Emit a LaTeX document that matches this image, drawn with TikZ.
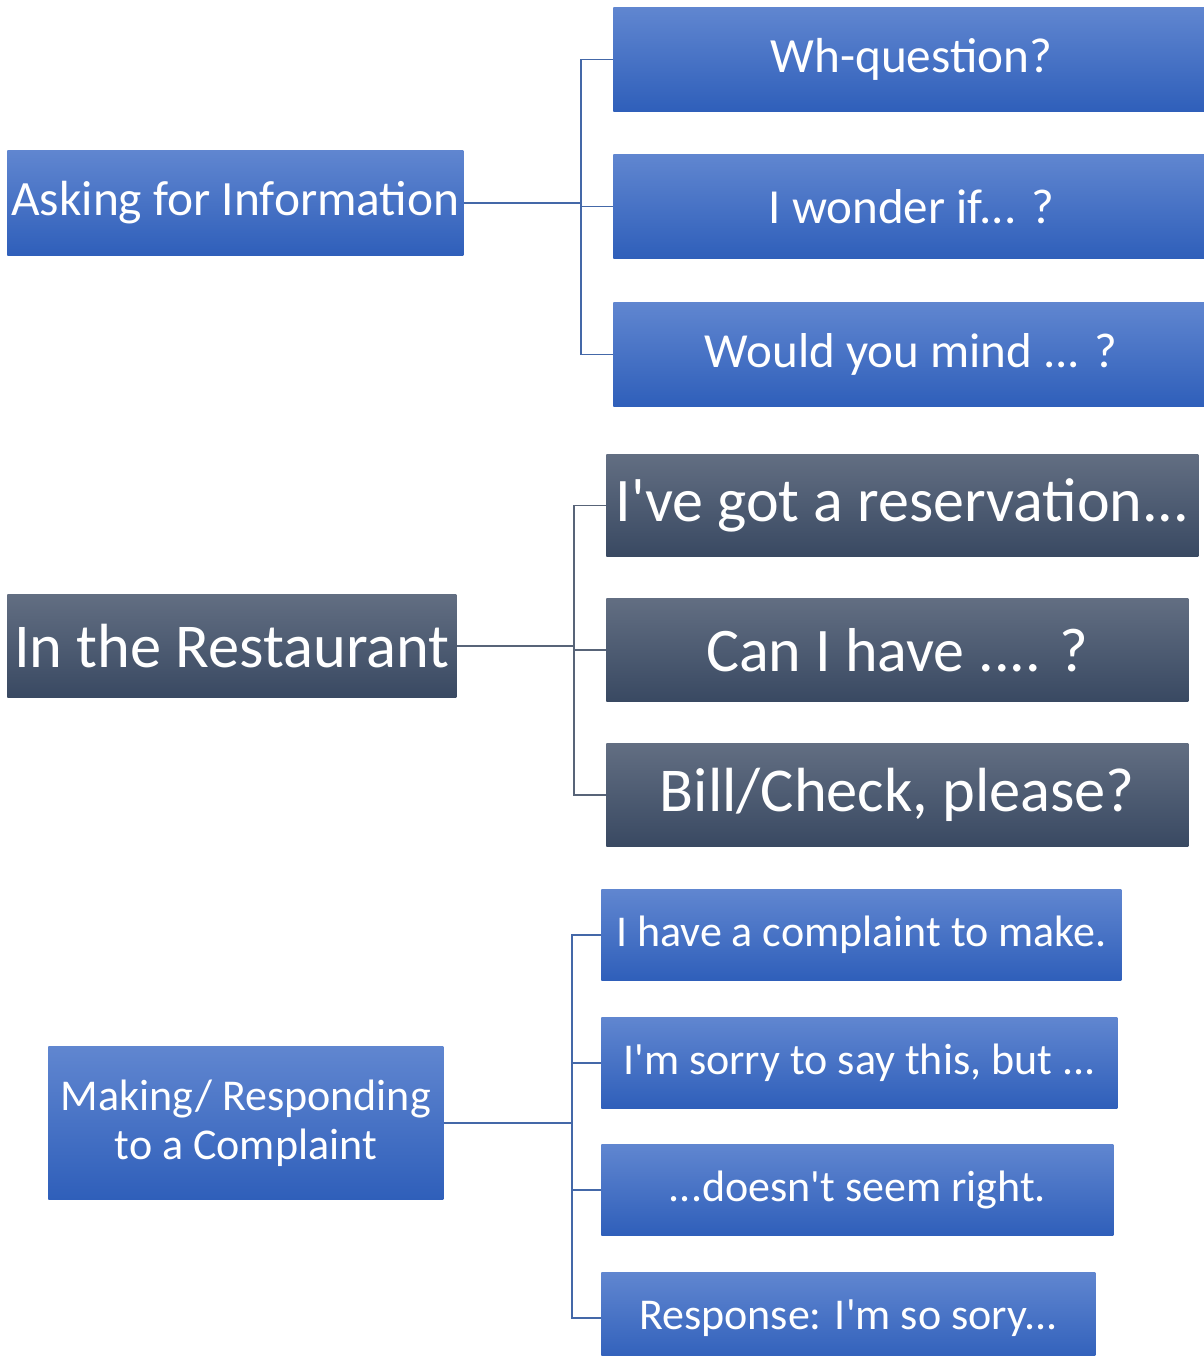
\documentclass[tikz,border=0pt]{standalone}
\usepackage{fontspec}
\setmainfont{Carlito}[Ligatures=TeXOff]
\usepackage{xcolor}
\usetikzlibrary{positioning}
\definecolor{PhraseBlueTop}{RGB}{96,134,208}
\definecolor{PhraseBlueBot}{RGB}{47,95,186}
\definecolor{PhraseDarkTop}{RGB}{98,110,130}
\definecolor{PhraseDarkBot}{RGB}{57,73,98}
\definecolor{LinkBlue}{RGB}{68,104,168}
\definecolor{LinkDark}{RGB}{88,100,120}
\tikzset{
  bluebox/.style={rectangle, anchor=north west, inner sep=0pt,
    top color=PhraseBlueTop, bottom color=PhraseBlueBot, text=white, align=center},
  darkbox/.style={rectangle, anchor=north west, inner sep=0pt,
    top color=PhraseDarkTop, bottom color=PhraseDarkBot, text=white, align=center},
  bluelink/.style={draw=LinkBlue, line width=0.7pt},
  darklink/.style={draw=LinkDark, line width=0.7pt}
}

\begin{document}
\begin{tikzpicture}[x=0.5pt, y=-0.5pt]
  \useasboundingbox (0,0) rectangle (1204,1356);
  % asking for information
  \node[bluebox, minimum width=228pt, minimum height=52.5pt,
    font=\fontsize{24.7}{27}\selectfont] (ask) at (7,150) {Asking for Information};
  \node[bluebox, minimum width=298pt, minimum height=52pt,
    font=\fontsize{24.6}{27}\selectfont] (wh) at (613,7) {Wh-question?};
  \node[bluebox, minimum width=298pt, minimum height=52pt,
    font=\fontsize{24.5}{27}\selectfont] (wonder) at (613,154) {I wonder if... ?};
  \node[bluebox, minimum width=298pt, minimum height=52pt,
    font=\fontsize{24.5}{27}\selectfont] (mind) at (613,302) {Would you mind ... ?};
  \path (ask.east) ++(117,0) coordinate (askj);
  \draw[bluelink] (ask.east) -- (askj);
  \foreach \c in {wh,wonder,mind}
    \draw[bluelink] (askj) |- (\c.west);
  % in the restaurant
  \node[darkbox, minimum width=224.5pt, minimum height=51.5pt,
    font=\fontsize{31.2}{34}\selectfont] (rest) at (7,594) {In the Restaurant};
  \node[darkbox, minimum width=296pt, minimum height=51pt,
    font=\fontsize{31}{34}\selectfont] (resv) at (606,454) {I've got a reservation...};
  \node[darkbox, minimum width=291pt, minimum height=51.5pt,
    font=\fontsize{31}{34}\selectfont] (canhave) at (606,598) {Can I have .... ?};
  \node[darkbox, minimum width=291pt, minimum height=51.5pt,
    font=\fontsize{31.2}{34}\selectfont] (bill) at (606,743) {Bill/Check, please?};
  \path (rest.east) ++(117,0) coordinate (restj);
  \draw[darklink] (rest.east) -- (restj);
  \foreach \c in {resv,canhave,bill}
    \draw[darklink] (restj) |- (\c.west);
  % making / responding to a complaint
  \node[bluebox, minimum width=197.5pt, minimum height=76.5pt,
    font=\fontsize{22}{24.5}\selectfont] (compl) at (48,1046) {Making/ Responding\\to a Complaint};
  \node[bluebox, minimum width=260pt, minimum height=45.5pt,
    font=\fontsize{22}{24}\selectfont] (make) at (601,889) {I have a complaint to make.};
  \node[bluebox, minimum width=258pt, minimum height=45.5pt,
    font=\fontsize{22}{24}\selectfont] (sorry) at (601,1017) {I'm sorry to say this, but ...};
  \node[bluebox, minimum width=256pt, minimum height=45.5pt,
    font=\fontsize{22}{24}\selectfont] (right) at (601,1144) {...doesn't seem right.};
  \node[bluebox, minimum width=247pt, minimum height=45.5pt,
    font=\fontsize{22}{24}\selectfont] (resp) at (601,1272) {Response: I'm so sory...};
  \path (compl.east) ++(128,0) coordinate (complj);
  \draw[bluelink] (compl.east) -- (complj);
  \foreach \c in {make,sorry,right,resp}
    \draw[bluelink] (complj) |- (\c.west);
\end{tikzpicture}
\end{document}
